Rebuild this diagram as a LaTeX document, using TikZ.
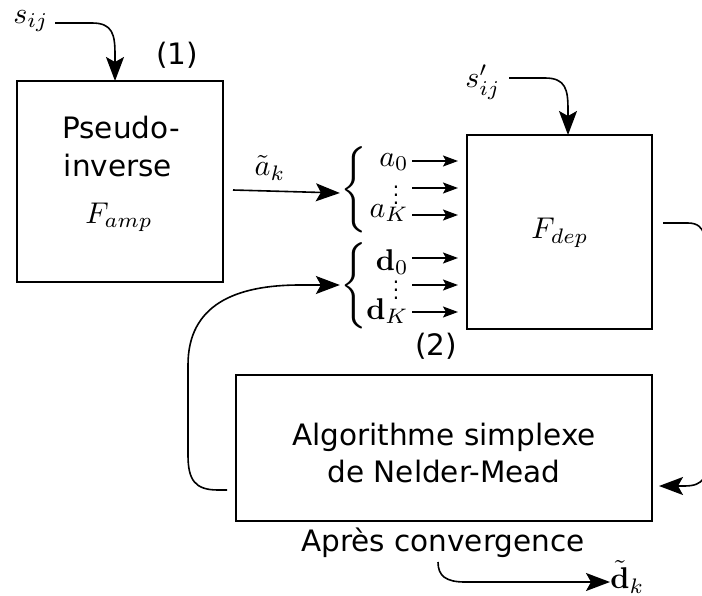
\documentclass[tikz,border=0pt]{standalone}
\usepackage{amsmath}
\usepackage{graphicx}
\usepackage[no-math]{fontspec}
\setmainfont{DejaVu Sans}
\usetikzlibrary{arrows.meta}
\newcommand{\mathbig}[1]{\scalebox{1.5}{$#1$}}
\newcommand{\bracebig}{\scalebox{2}[2.4]{$\left\{\vcenter{\hbox{\rule{0pt}{18pt}}}\right.$}}
\begin{document}
\begin{tikzpicture}[x=0.5pt,y=-0.5pt,
  txt/.style={font=\fontsize{14.75}{18.5}\selectfont, inner sep=0pt, align=center},
  mth/.style={font=\normalsize, inner sep=0pt},
  boxx/.style={draw, line width=0.8pt},
  con/.style={line width=0.8pt, -{Stealth[length=12pt,width=9pt,inset=2.5pt]}},
  scon/.style={line width=0.8pt, -{Stealth[length=7.5pt,width=5.5pt,inset=1.5pt]}},
  plain/.style={line width=0.8pt}]
\useasboundingbox (0,0) rectangle (702,595);
% boxes
\draw[boxx] (17,81) rectangle (223,282);
\draw[boxx] (467,135) rectangle (652,329);
\draw[boxx] (236,375) rectangle (652,521);
\coordinate (b1top) at (115,81);
\coordinate (b2top) at (568,135);
% texts in boxes
\node[txt, anchor=base] (pseudo) at (121,138) {Pseudo-};
\node[txt, anchor=base] (inverse) at (118,176) {inverse};
\node[mth, anchor=base] (famp) at (119,223) {\mathbig{F_{amp}}};
\node[mth] (fdep) at (560,233) {\mathbig{F_{dep}}};
\node[txt] (nm) at (444,453) {Algorithme simplexe\\de Nelder-Mead};
\node[txt] (apres) at (443,543) {Après convergence};
\node[txt] (one) at (177,55) {(1)};
\node[txt] (two) at (436,346) {(2)};
% inputs
\node[mth] (sij) at (31,21) {\mathbig{s_{ij}}};
\node[mth] (spij) at (483,82) {\mathbig{s'_{ij}}};
\draw[con] (55,23) -- (92,23) .. controls (113,23) and (115,35) .. (115,55) -- (b1top);
\draw[con] (509,78) -- (545,78) .. controls (566,78) and (568,90) .. (568,110) -- (b2top);
% a_k arrow
\node[mth] (ak) at (270,168) {\mathbig{\tilde{a}_k}};
\node[mth] (br1) at (356,190) {\bracebig};
\node[mth] (br2) at (356,286) {\bracebig};
\draw[con] (233,190) -- (br1.west|-0,193);
% a labels
\node[mth, anchor=east] (a0) at (409,162) {\mathbig{a_0}};
\node[mth] (ad) at (396,189) {$\vdots$};
\node[mth, anchor=east] (aK) at (409,213) {\mathbig{a_K}};
\node[mth, anchor=east] (d0) at (409,262) {\mathbig{\mathbf{d}_0}};
\node[mth] (dd) at (396,284) {$\vdots$};
\node[mth, anchor=east] (dK) at (409,311) {\mathbig{\mathbf{d}_K}};
\coordinate (e1) at (458,161);
\coordinate (e2) at (458,188);
\coordinate (e3) at (458,215);
\coordinate (e4) at (458,258);
\coordinate (e5) at (458,285);
\coordinate (e6) at (458,312);
\draw[scon] (412,161) -- (e1);
\draw[scon] (412,188) -- (e2);
\draw[scon] (412,215) -- (e3);
\draw[scon] (412,258) -- (e4);
\draw[scon] (412,285) -- (e5);
\draw[scon] (412,312) -- (e6);
% feedback
\coordinate (fbstart) at (227,490);
\draw[con] (fbstart) -- (218,490) .. controls (195,490) and (188,480) .. (188,455)
  -- (188,365) .. controls (188,305) and (235,285) .. (300,285) -- (br2.west|-0,285);
% right side
\draw[plain] (663,223) -- (688,223) .. controls (698,223) and (702,228) .. (704,234);
\coordinate (b3r) at (652,486);
\draw[con] (704,478) .. controls (700,484) and (694,486) .. (684,486) -- (659,486);
% output
\node[mth, anchor=west] (dk) at (610,577) {\mathbig{\tilde{\mathbf{d}}_k}};
\draw[con] (438,562) .. controls (438,576) and (446,582) .. (465,582) -- (dk.west|-0,582);
\end{tikzpicture}
\end{document}
